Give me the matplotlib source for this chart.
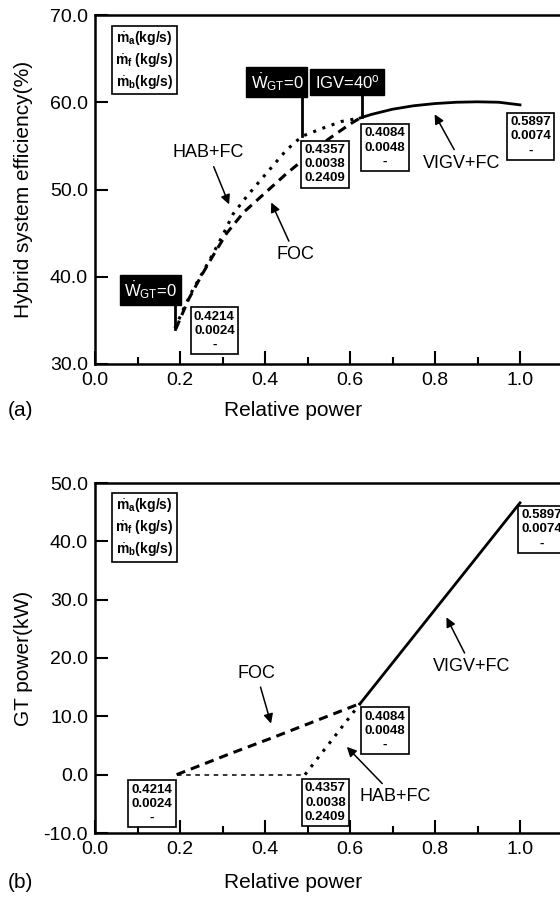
import matplotlib
matplotlib.use("Agg")
import matplotlib.pyplot as plt
from matplotlib.ticker import MultipleLocator, FormatStrFormatter

plt.rcParams['font.family'] = ['Liberation Sans', 'DejaVu Sans']
plt.rcParams['mathtext.fontset'] = 'custom'
plt.rcParams['mathtext.rm'] = 'Liberation Sans'
plt.rcParams['mathtext.it'] = 'Liberation Sans:italic'
plt.rcParams['mathtext.bf'] = 'Liberation Sans:bold'

# (a) hybrid system efficiency vs relative power
foc_x = [0.19, 0.22, 0.25, 0.28, 0.31, 0.35, 0.40, 0.45, 0.50, 0.55, 0.60, 0.624]
foc_eff = [34.0, 37.4, 40.1, 42.6, 45.0, 47.4, 49.6, 51.8, 53.8, 55.8, 57.5, 58.2]
hab_x = [0.188, 0.21, 0.23, 0.25, 0.275, 0.30, 0.325, 0.357, 0.39, 0.42, 0.45, 0.487, 0.54, 0.58, 0.624]
hab_eff = [34.1, 36.5, 38.5, 40.2, 42.4, 44.7, 47.2, 49.2, 51.1, 52.8, 54.5, 56.1, 57.1, 57.8, 58.2]
vigv_x = [0.624, 0.65, 0.70, 0.75, 0.80, 0.85, 0.90, 0.95, 1.0]
vigv_eff = [58.2, 58.6, 59.2, 59.6, 59.85, 60.0, 60.05, 60.0, 59.7]

# (b) GT power vs relative power
foc_gt_x = [0.192, 0.318, 0.42, 0.624]
foc_gt = [0.0, 3.6, 6.4, 12.2]
hab_flat_x = [0.192, 0.494]
hab_flat = [0.0, 0.0]
hab_gt_x = [0.494, 0.624]
hab_gt = [0.0, 12.2]
vigv_gt_x = [0.624, 1.0]
vigv_gt = [12.2, 46.6]

# operating-point boxes: m_a, m_f, m_b
pt_labels = ["0.4214\n0.0024\n-", "0.4357\n0.0038\n0.2409", "0.4084\n0.0048\n-", "0.5897\n0.0074\n-"]
legend_txt = (r"$\dot{\mathbf{m}}_{\mathbf{a}}$(kg/s)" "\n"
              r"$\dot{\mathbf{m}}_{\mathbf{f}}$ (kg/s)" "\n"
              r"$\dot{\mathbf{m}}_{\mathbf{b}}$(kg/s)")
wgt_txt = r"$\dot{\mathrm{W}}_{\mathrm{GT}}$=0"
igv_txt = r"IGV=40$^{\mathrm{o}}$"

W, H = 560, 898
fig = plt.figure(figsize=(W / 100, H / 100), dpi=100)


def add_ax(top_px, bot_px):
    ax = fig.add_axes([95 / W, 1 - bot_px / H, 467.5 / W, (bot_px - top_px) / H])
    ax.set_xlim(0, 1.1)
    ax.xaxis.set_major_locator(MultipleLocator(0.2))
    ax.xaxis.set_minor_locator(MultipleLocator(0.1))
    ax.xaxis.set_major_formatter(FormatStrFormatter('%.1f'))
    ax.yaxis.set_major_formatter(FormatStrFormatter('%.1f'))
    ax.tick_params(which='both', direction='in', width=1.5, labelsize=14, colors='black')
    ax.tick_params(which='major', length=9.5)
    ax.tick_params(which='minor', length=5)
    ax.tick_params(axis='y', which='major', pad=5)
    ax.tick_params(axis='x', which='major', pad=6)
    for s in ax.spines.values():
        s.set_linewidth(1.8)
    return ax


box = dict(boxstyle='square,pad=0.25', fc='white', ec='black', lw=1.2)
blk = dict(boxstyle='square,pad=0.25', fc='black', ec='black', lw=1)
lab_kw = dict(fontsize=9.5, fontweight='bold', ha='center', va='center', linespacing=1.25)
leg_kw = dict(fontsize=10, fontweight='bold', ha='center', va='center', linespacing=1.3)
arr = dict(arrowstyle='-|>', color='black', lw=1.1, mutation_scale=14)

# ---------------- (a)
ax1 = add_ax(15, 364)
ax1.set_ylim(30, 70)
ax1.yaxis.set_major_locator(MultipleLocator(10))

ax1.plot(foc_x, foc_eff, color='black', lw=2.2, dashes=(3, 2))
ax1.plot(hab_x, hab_eff, color='black', lw=2.2, dashes=(1, 2.2))
ax1.plot(vigv_x, vigv_eff, color='black', lw=2)

ax1.text(0.116, 64.85, legend_txt, bbox=box, **leg_kw)
ax1.text(0.281, 33.8, pt_labels[0], bbox=box, **lab_kw)
ax1.text(0.541, 52.9, pt_labels[1], bbox=box, **lab_kw)
ax1.text(0.682, 54.8, pt_labels[2], bbox=box, **lab_kw)
ax1.text(1.025, 56.1, pt_labels[3], bbox=box, **lab_kw)

ax1.text(0.428, 62.3, wgt_txt, color='white', fontsize=12, ha='center', va='center', bbox=blk)
ax1.text(0.593, 62.3, igv_txt, color='white', fontsize=12, ha='center', va='center', bbox=blk)
ax1.text(0.131, 38.5, wgt_txt, color='white', fontsize=12, ha='center', va='center', bbox=blk)
ax1.plot([0.487, 0.487], [60.8, 56.1], color='black', lw=2)
ax1.plot([0.628, 0.628], [60.8, 58.3], color='black', lw=2)
ax1.plot([0.188, 0.188], [36.9, 34.0], color='black', lw=2)

ax1.annotate("HAB+FC", xy=(0.318, 48.0), xytext=(0.266, 54.2), fontsize=13,
             ha='center', va='center', arrowprops=arr)
ax1.annotate("FOC", xy=(0.412, 48.8), xytext=(0.471, 42.5), fontsize=13,
             ha='center', va='center', arrowprops=arr)
ax1.annotate("VIGV+FC", xy=(0.796, 58.9), xytext=(0.863, 53.0), fontsize=13,
             ha='center', va='center', arrowprops=arr)

ax1.yaxis.set_label_coords(-0.132, 0.5)
ax1.set_ylabel("Hybrid system efficiency(%)", fontsize=15)
fig.text(293 / W, 1 - 410 / H, "Relative power", fontsize=15, ha='center', va='center')
fig.text(8 / W, 1 - 410 / H, "(a)", fontsize=15, ha='left', va='center')

# ---------------- (b)
ax2 = add_ax(483, 833)
ax2.set_ylim(-10, 50)
ax2.yaxis.set_major_locator(MultipleLocator(10))

ax2.plot(foc_gt_x, foc_gt, color='black', lw=2.2, dashes=(3, 2))
ax2.plot(hab_flat_x, hab_flat, color='black', lw=1.1, dashes=(3, 3))
ax2.plot(hab_gt_x, hab_gt, color='black', lw=2.2, dashes=(1, 2.2))
ax2.plot(vigv_gt_x, vigv_gt, color='black', lw=2)

ax2.text(0.116, 42.4, legend_txt, bbox=box, **leg_kw)
ax2.text(0.134, -5.0, pt_labels[0], bbox=box, **lab_kw)
ax2.text(0.542, -4.8, pt_labels[1], bbox=box, **lab_kw)
ax2.text(0.682, 7.5, pt_labels[2], bbox=box, **lab_kw)
ax2.text(1.051, 42.1, pt_labels[3], bbox=box, **lab_kw)

ax2.annotate("FOC", xy=(0.416, 8.3), xytext=(0.380, 17.4), fontsize=13,
             ha='center', va='center', arrowprops=arr)
ax2.annotate("HAB+FC", xy=(0.588, 5.1), xytext=(0.706, -3.8), fontsize=13,
             ha='center', va='center', arrowprops=arr)
ax2.annotate("VIGV+FC", xy=(0.824, 27.4), xytext=(0.886, 18.5), fontsize=13,
             ha='center', va='center', arrowprops=arr)

ax2.yaxis.set_label_coords(-0.132, 0.5)
ax2.set_ylabel("GT power(kW)", fontsize=15)
fig.text(293 / W, 1 - 883 / H, "Relative power", fontsize=15, ha='center', va='center')
fig.text(8 / W, 1 - 883 / H, "(b)", fontsize=15, ha='left', va='center')

fig.savefig("out.png", dpi=100)
